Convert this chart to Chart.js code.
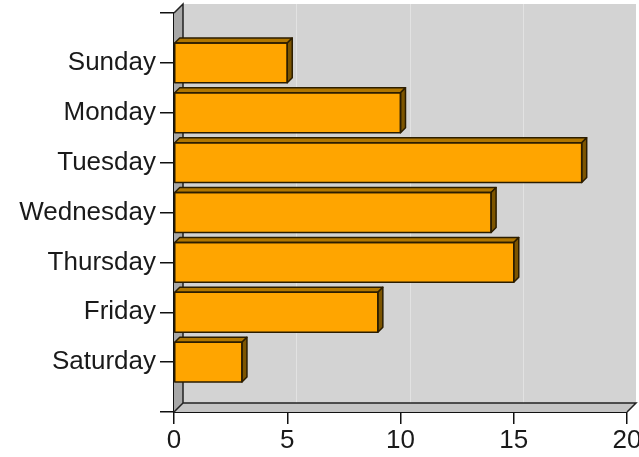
<!DOCTYPE html>
<html>
<head>
<meta charset="utf-8">
<script src="https://cdn.jsdelivr.net/npm/chart.js@4.4.1/dist/chart.umd.min.js"></script>
<style>
  html, body { margin: 0; padding: 0; background: #fff; }
  #wrap { width: 639px; height: 457px; }
</style>
</head>
<body>
<div id="wrap"><canvas id="chart"></canvas></div>
<script>
/* ---- Data ---- */
const days   = ['Sunday', 'Monday', 'Tuesday', 'Wednesday', 'Thursday', 'Friday', 'Saturday'];
const values = [5, 10, 18, 14, 15, 9, 3];
const xTicks = [0, 5, 10, 15, 20];

// blank slots top and bottom give the end tick marks of the axis
const labels = [''].concat(days, ['']);
const data   = [null].concat(values, [null]);

const DEPTH = 9;     // wall depth
const BAR_D = 5;     // bar depth

/* ---- 3D walls and bar faces ---- */
const walls = {
  id: 'walls',
  beforeDatasetsDraw(chart) {
    const { ctx, chartArea: a, scales } = chart;
    const d = DEPTH;
    ctx.save();
    // back wall
    ctx.fillStyle = '#d3d3d3';
    ctx.fillRect(a.left + d, a.top - d, a.right - a.left, a.bottom - a.top);
    // grid on back wall
    ctx.strokeStyle = '#e2e2e2';
    ctx.lineWidth = 1;
    xTicks.slice(1, -1).forEach(v => {
      const px = Math.round(scales.x.getPixelForValue(v) + d) + 0.5;
      ctx.beginPath();
      ctx.moveTo(px, a.top - d);
      ctx.lineTo(px, a.bottom - d);
      ctx.stroke();
    });
    // left wall
    ctx.fillStyle = '#a8a8a8';
    ctx.beginPath();
    ctx.moveTo(a.left, a.top);
    ctx.lineTo(a.left + d, a.top - d);
    ctx.lineTo(a.left + d, a.bottom - d);
    ctx.lineTo(a.left, a.bottom);
    ctx.closePath();
    ctx.fill();
    // floor
    ctx.fillStyle = '#c4c4c4';
    ctx.beginPath();
    ctx.moveTo(a.left, a.bottom);
    ctx.lineTo(a.left + d, a.bottom - d);
    ctx.lineTo(a.right + d, a.bottom - d);
    ctx.lineTo(a.right, a.bottom);
    ctx.closePath();
    ctx.fill();
    // edges
    ctx.strokeStyle = '#222';
    ctx.lineWidth = 1.5;
    ctx.beginPath();
    ctx.moveTo(a.left, a.top);
    ctx.lineTo(a.left + d, a.top - d);
    ctx.lineTo(a.left + d, a.bottom - d);
    ctx.lineTo(a.right + d, a.bottom - d);
    ctx.lineTo(a.right, a.bottom);
    ctx.moveTo(a.left + d, a.bottom - d);
    ctx.lineTo(a.left, a.bottom);
    ctx.stroke();
    ctx.restore();
  },
  afterDatasetsDraw(chart) {
    const { ctx } = chart;
    const b = BAR_D;
    const ds = chart.data.datasets[0].data;
    ctx.save();
    ctx.lineJoin = 'round';
    chart.getDatasetMeta(0).data.forEach((bar, i) => {
      if (ds[i] == null) return;
      const t = bar.y - bar.height / 2;
      const bt = bar.y + bar.height / 2;
      const l = bar.base, r = bar.x;
      ctx.strokeStyle = '#2b1d00';
      ctx.lineWidth = 1.5;
      // top face
      ctx.fillStyle = '#b07600';
      ctx.beginPath();
      ctx.moveTo(l, t);
      ctx.lineTo(l + b, t - b);
      ctx.lineTo(r + b, t - b);
      ctx.lineTo(r, t);
      ctx.closePath();
      ctx.fill();
      ctx.stroke();
      // side face
      ctx.fillStyle = '#7d5500';
      ctx.beginPath();
      ctx.moveTo(r, t);
      ctx.lineTo(r + b, t - b);
      ctx.lineTo(r + b, bt - b);
      ctx.lineTo(r, bt);
      ctx.closePath();
      ctx.fill();
      ctx.stroke();
      // front outline
      ctx.strokeRect(l, t, r - l, bt - t);
    });
    ctx.restore();
  }
};

const tickFont = { family: "'Liberation Sans', Arial, sans-serif", size: 26 };

new Chart(document.getElementById('chart'), {
  type: 'bar',
  data: {
    labels: labels,
    datasets: [{
      data: data,
      backgroundColor: '#ffa500',
      borderWidth: 0,
      categoryPercentage: 1,
      barPercentage: 0.8,
    }],
  },
  options: {
    indexAxis: 'y',
    responsive: true,
    maintainAspectRatio: false,
    animation: false,
    layout: { padding: { top: 13, right: 12, left: 0, bottom: 0 } },
    plugins: { legend: { display: false }, tooltip: { enabled: false } },
    scales: {
      x: {
        min: 0, max: 20,
        afterBuildTicks: s => { s.ticks = xTicks.map(v => ({ value: v })); },
        afterFit: s => { s.height = 45; s.paddingLeft = 0; s.paddingRight = 0; },
        grid: { drawOnChartArea: false, drawTicks: true, tickLength: 12, color: '#111', lineWidth: 1.5 },
        border: { color: '#111', width: 2 },
        ticks: { color: '#1a1a1a', font: tickFont, padding: 1, maxRotation: 0 },
      },
      y: {
        offset: false,
        afterFit: s => { s.width = 174; s.paddingTop = 0; s.paddingBottom = 0; },
        grid: { offset: false, drawOnChartArea: false, drawTicks: true, tickLength: 14, color: '#111', lineWidth: 1.5 },
        border: { color: '#111', width: 2 },
        ticks: { color: '#1a1a1a', font: tickFont, padding: 4, autoSkip: false },
      },
    },
  },
  plugins: [walls],
});
</script>
</body>
</html>
